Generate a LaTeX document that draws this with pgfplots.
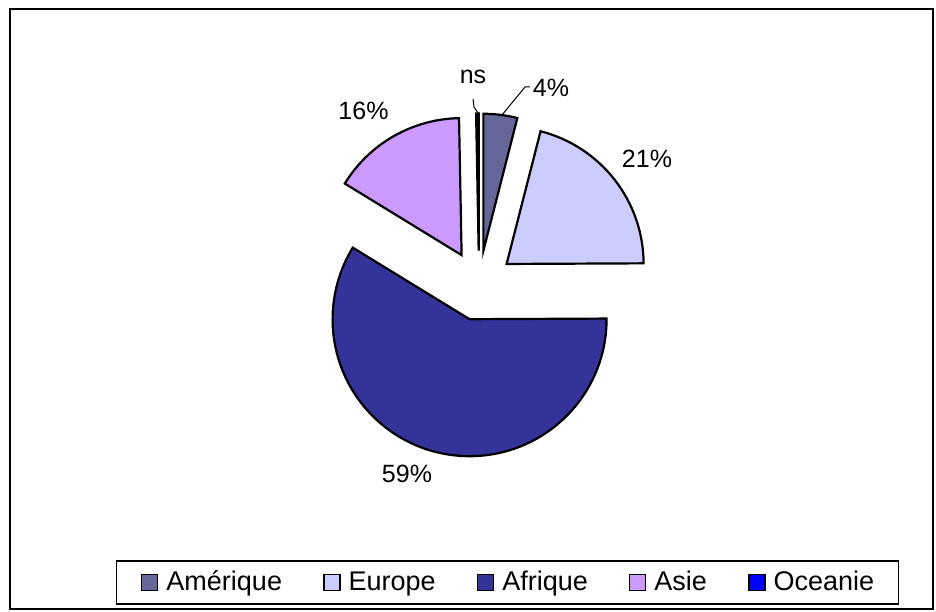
\documentclass[border=0pt]{standalone}
\usepackage{fontspec}
\setmainfont{Liberation Sans}
\usepackage{pgfplots}
\pgfplotsset{compat=1.18}
\definecolor{amer}{HTML}{666699}
\definecolor{euro}{HTML}{CCCCFF}
\definecolor{afri}{HTML}{333399}
\definecolor{asie}{HTML}{CC99FF}
\definecolor{ocea}{HTML}{0000FF}

% one exploded slice: #1 = share before it (%), #2 = share (%), #3 = colour
% 360/100.3 degrees per percent (the five shares add up to 100.3)
\newcommand{\slice}[3]{%
  \filldraw[fill=#3, draw=black, line width=1.1pt]
    (axis cs:479,325.5) ++({90-3.5892*(#1+#2/2)}:17.5pt)
    -- ++({90-3.5892*#1}:68.5pt)
    arc[start angle={90-3.5892*#1}, end angle={90-3.5892*(#1+#2)}, radius=68.5pt]
    -- cycle;}

\begin{document}
\begin{tikzpicture}[font=\fontsize{12.5}{15}\selectfont]
\begin{axis}[
  x=0.5pt, y=0.5pt,
  xmin=0, xmax=936, ymin=0, ymax=611,
  hide axis, clip=false,
  legend columns=5,
  legend image code/.code={\draw[#1, line width=0.8pt] (0pt,-4pt) rectangle (8pt,4pt);},
  legend style={at={(0.5422,0.0466)}, anchor=center, draw=black, line width=0.6pt,
    font=\fontsize{13.5}{16}\selectfont, inner xsep=12pt, inner ysep=5pt,
    nodes={inner sep=0pt},
    /tikz/every odd column/.append style={column sep=4pt},
    /tikz/every even column/.append style={column sep=20.5pt}},
]
\path (axis cs:0,0) rectangle (axis cs:936,611);
\draw[line width=0.8pt] (axis cs:10,2) rectangle (axis cs:933,602);

% shares in percent: Amerique 4, Europe 21, Afrique 59, Asie 16, Oceanie 0.3
\slice{0}{4}{amer}
\slice{4}{21}{euro}
\slice{25}{59}{afri}
\slice{84}{16}{asie}
\slice{100}{0.3}{ocea}

\node at (axis cs:473,534) {ns};
\node at (axis cs:551,523) {4\%};
\node at (axis cs:647,452) {21\%};
\node at (axis cs:363.5,500) {16\%};
\node at (axis cs:407,137) {59\%};
\draw[line width=0.5pt] (axis cs:473,512) -- (axis cs:474,504) -- (axis cs:478,498);
\draw[line width=0.5pt] (axis cs:530,524) -- (axis cs:525,524) -- (axis cs:502,496);

\addlegendimage{fill=amer, draw=black}
\addlegendentry{Amérique}
\addlegendimage{fill=euro, draw=black}
\addlegendentry{Europe}
\addlegendimage{fill=afri, draw=black}
\addlegendentry{Afrique}
\addlegendimage{fill=asie, draw=black}
\addlegendentry{Asie}
\addlegendimage{fill=ocea, draw=black}
\addlegendentry{Oceanie}
\end{axis}
\end{tikzpicture}
\end{document}
